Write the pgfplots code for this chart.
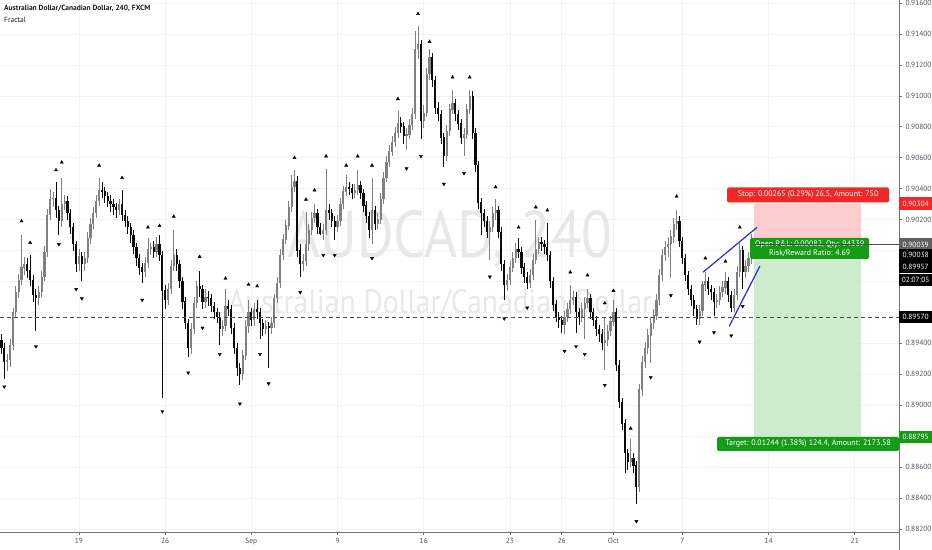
\documentclass[border=0pt]{standalone}
\usepackage{fontspec}
\setmainfont{PT Sans}
\usepackage{graphicx}
\usepackage{pgfplots}
\usepackage{pgfplotstable}
\pgfplotsset{compat=1.18}

\definecolor{upc}{RGB}{128,128,128}
\definecolor{dnc}{RGB}{10,10,10}
\definecolor{stopfill}{RGB}{252,205,207}
\definecolor{tgtfill}{RGB}{205,236,205}
\definecolor{stopred}{RGB}{240,40,40}
\definecolor{tgtgreen}{RGB}{22,155,22}
\definecolor{wm}{RGB}{232,232,232}
\definecolor{lbl}{RGB}{76,82,94}
\definecolor{trend}{RGB}{40,40,210}

% 4h candles, k = bar index, o h l c
\pgfplotstableread{
k o h l c
0 0.8942 0.8946 0.8933 0.8937
1 0.8937 0.8940 0.8917 0.8928
2 0.8928 0.8933 0.8922 0.8929
3 0.8929 0.8943 0.8925 0.8939
4 0.8939 0.8963 0.8936 0.8960
5 0.8960 0.8977 0.8957 0.8973
6 0.8973 0.8985 0.8969 0.8981
7 0.8981 0.9010 0.8978 0.8989
8 0.8989 0.8996 0.8984 0.8991
9 0.8991 0.8995 0.8982 0.8987
10 0.8987 0.8997 0.8977 0.8981
11 0.8981 0.8984 0.8967 0.8971
12 0.8971 0.8975 0.8948 0.8969
13 0.8969 0.8977 0.8965 0.8973
14 0.8973 0.8987 0.8970 0.8983
15 0.8983 0.9003 0.8980 0.8999
16 0.8999 0.9027 0.8996 0.9023
17 0.9023 0.9040 0.9020 0.9033
18 0.9033 0.9038 0.9028 0.9034
19 0.9034 0.9044 0.9021 0.9026
20 0.9026 0.9029 0.9010 0.9019
21 0.9019 0.9047 0.9015 0.9030
22 0.9030 0.9036 0.9026 0.9032
23 0.9032 0.9035 0.9020 0.9024
24 0.9024 0.9027 0.9011 0.9015
25 0.9015 0.9018 0.9000 0.9004
26 0.9004 0.9006 0.8986 0.8991
27 0.8991 0.9001 0.8987 0.8996
28 0.8996 0.8999 0.8980 0.8991
29 0.8991 0.8999 0.8987 0.8995
30 0.8995 0.9012 0.8992 0.9008
31 0.9008 0.9021 0.9004 0.9017
32 0.9017 0.9028 0.9014 0.9024
33 0.9024 0.9036 0.9021 0.9032
34 0.9032 0.9047 0.9029 0.9039
35 0.9039 0.9044 0.9034 0.9038
36 0.9038 0.9041 0.9031 0.9035
37 0.9035 0.9038 0.9028 0.9032
38 0.9032 0.9036 0.9025 0.9030
39 0.9030 0.9033 0.9023 0.9028
40 0.9028 0.9031 0.9021 0.9026
41 0.9026 0.9033 0.9023 0.9030
42 0.9030 0.9039 0.9019 0.9023
43 0.9023 0.9026 0.9015 0.9019
44 0.9019 0.9022 0.9011 0.9015
45 0.9015 0.9018 0.9005 0.9010
46 0.9010 0.9013 0.8998 0.9002
47 0.9002 0.9005 0.8990 0.8995
48 0.8995 0.8998 0.8984 0.8989
49 0.8989 0.8992 0.8979 0.8986
50 0.8986 0.8996 0.8983 0.8992
51 0.8992 0.9008 0.8989 0.9001
52 0.9001 0.9005 0.8997 0.9002
53 0.9002 0.9006 0.8995 0.8999
54 0.8999 0.9009 0.8996 0.9004
55 0.9004 0.9010 0.8993 0.8997
56 0.8997 0.9000 0.8905 0.8974
57 0.8974 0.8978 0.8962 0.8968
58 0.8968 0.8979 0.8965 0.8975
59 0.8975 0.8994 0.8972 0.8990
60 0.8990 0.9013 0.8987 0.8997
61 0.8997 0.9001 0.8987 0.8991
62 0.8991 0.8994 0.8976 0.8980
63 0.8980 0.8983 0.8962 0.8967
64 0.8967 0.8970 0.8949 0.8953
65 0.8953 0.8956 0.8931 0.8937
66 0.8937 0.8953 0.8933 0.8949
67 0.8949 0.8970 0.8946 0.8966
68 0.8966 0.8980 0.8963 0.8977
69 0.8977 0.8987 0.8970 0.8975
70 0.8975 0.8978 0.8962 0.8967
71 0.8967 0.8975 0.8963 0.8970
72 0.8970 0.8974 0.8964 0.8969
73 0.8969 0.8972 0.8960 0.8964
74 0.8964 0.8967 0.8956 0.8960
75 0.8960 0.8963 0.8953 0.8957
76 0.8957 0.8960 0.8939 0.8949
77 0.8949 0.8955 0.8945 0.8951
78 0.8951 0.8975 0.8948 0.8964
79 0.8964 0.8968 0.8958 0.8962
80 0.8962 0.8965 0.8946 0.8950
81 0.8950 0.8953 0.8933 0.8937
82 0.8937 0.8940 0.8919 0.8924
83 0.8924 0.8927 0.8913 0.8920
84 0.8920 0.8936 0.8916 0.8932
85 0.8932 0.8955 0.8929 0.8951
86 0.8951 0.8968 0.8947 0.8960
87 0.8960 0.8963 0.8951 0.8955
88 0.8955 0.8966 0.8951 0.8962
89 0.8962 0.8968 0.8956 0.8960
90 0.8960 0.8963 0.8943 0.8953
91 0.8953 0.8956 0.8945 0.8949
92 0.8949 0.8955 0.8946 0.8951
93 0.8951 0.8954 0.8924 0.8950
94 0.8950 0.8957 0.8946 0.8953
95 0.8953 0.8972 0.8950 0.8969
96 0.8969 0.8983 0.8966 0.8979
97 0.8979 0.9001 0.8976 0.8997
98 0.8997 0.9011 0.8994 0.9007
99 0.9007 0.9020 0.9004 0.9016
100 0.9016 0.9032 0.9013 0.9028
101 0.9028 0.9049 0.9025 0.9041
102 0.9041 0.9052 0.9038 0.9045
103 0.9045 0.9048 0.8996 0.9000
104 0.9000 0.9004 0.8983 0.8991
105 0.8991 0.8998 0.8987 0.8993
106 0.8993 0.9025 0.8990 0.9004
107 0.9004 0.9017 0.9000 0.9013
108 0.9013 0.9025 0.9010 0.9021
109 0.9021 0.9030 0.9018 0.9024
110 0.9024 0.9027 0.9011 0.9015
111 0.9015 0.9018 0.9010 0.9011
112 0.9011 0.9017 0.9007 0.9013
113 0.9013 0.9053 0.9010 0.9026
114 0.9026 0.9030 0.9020 0.9024
115 0.9024 0.9027 0.9015 0.9019
116 0.9019 0.9022 0.9007 0.9015
117 0.9015 0.9023 0.9012 0.9019
118 0.9019 0.9034 0.9016 0.9030
119 0.9030 0.9042 0.9027 0.9038
120 0.9038 0.9049 0.9035 0.9041
121 0.9041 0.9044 0.9036 0.9040
122 0.9040 0.9043 0.9033 0.9037
123 0.9037 0.9043 0.9034 0.9039
124 0.9039 0.9052 0.9036 0.9042
125 0.9042 0.9045 0.9033 0.9037
126 0.9037 0.9040 0.9025 0.9029
127 0.9029 0.9032 0.9018 0.9022
128 0.9022 0.9025 0.9008 0.9013
129 0.9013 0.9047 0.9004 0.9026
130 0.9026 0.9029 0.9013 0.9017
131 0.9017 0.9024 0.9014 0.9020
132 0.9020 0.9037 0.9017 0.9033
133 0.9033 0.9051 0.9030 0.9047
134 0.9047 0.9061 0.9044 0.9057
135 0.9057 0.9068 0.9054 0.9064
136 0.9064 0.9074 0.9061 0.9070
137 0.9070 0.9080 0.9067 0.9076
138 0.9076 0.9090 0.9073 0.9082
139 0.9082 0.9086 0.9076 0.9080
140 0.9080 0.9083 0.9069 0.9074
141 0.9074 0.9079 0.9065 0.9075
142 0.9075 0.9085 0.9072 0.9081
143 0.9081 0.9092 0.9078 0.9088
144 0.9088 0.9142 0.9085 0.9130
145 0.9130 0.9145 0.9124 0.9133
146 0.9133 0.9136 0.9072 0.9084
147 0.9084 0.9094 0.9079 0.9089
148 0.9089 0.9118 0.9086 0.9114
149 0.9114 0.9130 0.9110 0.9125
150 0.9125 0.9128 0.9106 0.9110
151 0.9110 0.9113 0.9088 0.9092
152 0.9092 0.9096 0.9084 0.9088
153 0.9088 0.9091 0.9069 0.9073
154 0.9073 0.9076 0.9054 0.9061
155 0.9061 0.9081 0.9058 0.9077
156 0.9077 0.9095 0.9074 0.9091
157 0.9091 0.9104 0.9088 0.9095
158 0.9095 0.9098 0.9084 0.9088
159 0.9088 0.9091 0.9078 0.9082
160 0.9082 0.9085 0.9069 0.9073
161 0.9073 0.9079 0.9061 0.9075
162 0.9075 0.9095 0.9072 0.9091
163 0.9091 0.9104 0.9088 0.9100
164 0.9100 0.9103 0.9072 0.9076
165 0.9076 0.9079 0.9051 0.9055
166 0.9055 0.9058 0.9027 0.9031
167 0.9031 0.9034 0.9010 0.9024
168 0.9024 0.9027 0.9015 0.9019
169 0.9019 0.9022 0.9008 0.9012
170 0.9012 0.9019 0.8994 0.9015
171 0.9015 0.9028 0.9012 0.9024
172 0.9024 0.9033 0.9020 0.9026
173 0.9026 0.9029 0.9008 0.9012
174 0.9012 0.9015 0.8987 0.8991
175 0.8991 0.8994 0.8968 0.8978
176 0.8978 0.8985 0.8974 0.8981
177 0.8981 0.8993 0.8978 0.8989
178 0.8989 0.8999 0.8986 0.8995
179 0.8995 0.9005 0.8992 0.9001
180 0.9001 0.9008 0.8995 0.8999
181 0.8999 0.9002 0.8985 0.8989
182 0.8989 0.8992 0.8979 0.8983
183 0.8983 0.8986 0.8975 0.8979
184 0.8979 0.8988 0.8976 0.8984
185 0.8984 0.8998 0.8981 0.8994
186 0.8994 0.9020 0.8991 0.9001
187 0.9001 0.9009 0.8998 0.9005
188 0.9005 0.9009 0.9000 0.9004
189 0.9004 0.9007 0.8998 0.9002
190 0.9002 0.9018 0.8993 0.8997
191 0.8997 0.9000 0.8976 0.8980
192 0.8980 0.8983 0.8961 0.8965
193 0.8965 0.8968 0.8954 0.8957
194 0.8957 0.8960 0.8950 0.8955
195 0.8955 0.8958 0.8947 0.8952
196 0.8952 0.8961 0.8946 0.8957
197 0.8957 0.8966 0.8954 0.8962
198 0.8962 0.8978 0.8959 0.8968
199 0.8968 0.8974 0.8965 0.8970
200 0.8970 0.8973 0.8947 0.8960
201 0.8960 0.8963 0.8952 0.8957
202 0.8957 0.8966 0.8954 0.8962
203 0.8962 0.8970 0.8943 0.8966
204 0.8966 0.8975 0.8963 0.8969
205 0.8969 0.8972 0.8956 0.8960
206 0.8960 0.8963 0.8951 0.8955
207 0.8955 0.8958 0.8945 0.8949
208 0.8949 0.8952 0.8941 0.8946
209 0.8946 0.8949 0.8936 0.8940
210 0.8940 0.8957 0.8923 0.8942
211 0.8942 0.8952 0.8938 0.8948
212 0.8948 0.8958 0.8945 0.8954
213 0.8954 0.8968 0.8951 0.8960
214 0.8960 0.8963 0.8922 0.8926
215 0.8926 0.8929 0.8898 0.8902
216 0.8902 0.8905 0.8884 0.8888
217 0.8888 0.8891 0.8856 0.8869
218 0.8869 0.8872 0.8858 0.8863
219 0.8863 0.8878 0.8860 0.8866
220 0.8866 0.8869 0.8856 0.8861
221 0.8861 0.8864 0.8836 0.8847
222 0.8847 0.8914 0.8844 0.8910
223 0.8910 0.8932 0.8906 0.8928
224 0.8928 0.8941 0.8924 0.8937
225 0.8937 0.8949 0.8933 0.8945
226 0.8945 0.8957 0.8927 0.8953
227 0.8953 0.8962 0.8949 0.8958
228 0.8958 0.8972 0.8955 0.8968
229 0.8968 0.8988 0.8965 0.8984
230 0.8984 0.9001 0.8980 0.8997
231 0.8997 0.9006 0.8993 0.9002
232 0.9002 0.9009 0.8996 0.9004
233 0.9004 0.9013 0.8982 0.9009
234 0.9009 0.9021 0.9005 0.9017
235 0.9017 0.9026 0.9013 0.9019
236 0.9019 0.9022 0.9002 0.9006
237 0.9006 0.9009 0.8991 0.8995
238 0.8995 0.8998 0.8980 0.8984
239 0.8984 0.8987 0.8971 0.8975
240 0.8975 0.8978 0.8964 0.8968
241 0.8968 0.8971 0.8958 0.8962
242 0.8962 0.8965 0.8952 0.8956
243 0.8956 0.8965 0.8952 0.8961
244 0.8961 0.8980 0.8958 0.8978
245 0.8978 0.8986 0.8974 0.8980
246 0.8980 0.8983 0.8971 0.8975
247 0.8975 0.8978 0.8968 0.8973
248 0.8973 0.8976 0.8958 0.8967
249 0.8967 0.8972 0.8963 0.8968
250 0.8968 0.8977 0.8965 0.8973
251 0.8973 0.8980 0.8970 0.8976
252 0.8976 0.8986 0.8972 0.8980
253 0.8980 0.8983 0.8967 0.8971
254 0.8971 0.8974 0.8960 0.8963
255 0.8963 0.8975 0.8960 0.8971
256 0.8971 0.8990 0.8968 0.8986
257 0.8986 0.9005 0.8983 0.9000
258 0.9000 0.9003 0.8975 0.8986
259 0.8986 0.8994 0.8982 0.8990
260 0.8990 0.8999 0.8986 0.8995
261 0.8995 0.9011 0.8991 0.9004
262 0.9004 0.9008 0.9000 0.90039
}\candles

\newcommand\tl{\fontsize{7.5}{9}\selectfont}
\pgfplotsset{
  candle/.style 2 args={color=#1, draw=none, mark=none, forget plot,
    error bars/y dir=plus, error bars/y explicit, error bars/error mark=none,
    error bars/error bar style={draw=#1, solid, line width=#2}},
  wick/.style={color=#1, draw=none, mark=none, forget plot,
    error bars/y dir=both, error bars/y explicit, error bars/error mark=none,
    error bars/error bar style={draw=#1, solid, line width=0.8bp}},
  isup/.style={restrict expr to domain={\thisrow{c}-\thisrow{o}}{0:1}},
  isdown/.style={restrict expr to domain={\thisrow{c}-\thisrow{o}}{-1:-0.000001}},
}

\begin{document}
\begin{tikzpicture}
\begin{axis}[
  scale only axis, width=899bp, height=532bp,
  xmin=-0.49, xmax=312.4, ymin=0.881806, ymax=0.916195,
  axis x line*=bottom, axis y line*=right,
  axis line style={black!55, line width=0.8bp},
  xtick={27,57,87,117,147,177,195,213,237,267,297},
  xticklabels={19,26,Sep,9,16,23,26,Oct,7,14,21},
  ytick={0.882,0.884,0.886,0.888,0.890,0.892,0.894,0.896,0.898,0.900,0.902,0.904,0.906,0.908,0.910,0.912,0.914,0.916},
  yticklabels={0.88200,0.88400,0.88600,,0.89000,0.89200,0.89400,,,,0.90200,0.90400,0.90600,0.90800,0.91000,0.91200,0.91400,0.91600},
  scaled y ticks=false,
  tick align=outside, major tick length=3bp,
  tick style={black!55, line width=0.6bp},
  grid=major, grid style={black!5, line width=0.6bp},
  tick label style={font=\tl, text=lbl},
  /pgf/number format/assume math mode=true,
]
% position tool zones
\addplot[fill=stopfill, draw=none, forget plot] coordinates {(262,0.90039) (299.2,0.90039) (299.2,0.90304) (262,0.90304) (262,0.90039)};
\addplot[fill=tgtfill, draw=none, forget plot] coordinates {(262,0.88795) (299.2,0.88795) (299.2,0.90039) (262,0.90039) (262,0.88795)};

% watermark
\node[text=wm, anchor=base, inner sep=0] at (axis cs:156.1,0.89952) {\resizebox{325bp}{47bp}{AUDCAD, 240}};
\node[text=wm, anchor=base, inner sep=0] at (axis cs:152.7,0.89596) {\resizebox{424bp}{24bp}{Australian Dollar/Canadian Dollar}};

% up candles: wick low..high, body open..close
\addplot[isup, wick=upc]
  table[x=k, y=o, y error plus expr={\thisrow{h}-\thisrow{o}}, y error minus expr={\thisrow{o}-\thisrow{l}}] {\candles};
\addplot[isup, candle={upc}{2.2bp}]
  table[x=k, y=o, y error plus expr={\thisrow{c}-\thisrow{o}+0.00002}, y error minus expr={0}] {\candles};
% down candles
\addplot[isdown, wick=dnc]
  table[x=k, y=o, y error plus expr={\thisrow{h}-\thisrow{o}}, y error minus expr={\thisrow{o}-\thisrow{l}}] {\candles};
\addplot[isdown, candle={dnc}{2.2bp}]
  table[x=k, y=c, y error plus expr={\thisrow{o}-\thisrow{c}+0.00002}, y error minus expr={0}] {\candles};

% fractals
\addplot[only marks, mark=triangle*, mark size=1.8bp, black] coordinates {
(7,0.9019) (10,0.9005) (19,0.9052) (21,0.9057) (34,0.9055) (42,0.9047) (51,0.9015) (55,0.9016)
(60,0.9022) (69,0.8996) (78,0.8982) (86,0.8978) (89,0.8977) (102,0.9060) (106,0.9033) (109,0.9039)
(113,0.9061) (120,0.9055) (124,0.9061) (129,0.9055) (138,0.9098) (145,0.9153) (149,0.9135) (157,0.9112)
(163,0.9112) (172,0.9041) (180,0.9015) (186,0.9028) (190,0.9026) (198,0.8986) (204,0.8984) (210,0.8966)
(213,0.8974) (219,0.8885) (235,0.9035) (245,0.8995) (252,0.8993) (257,0.9015)};
\addplot[only marks, mark=triangle*, mark size=1.8bp, black, mark options={rotate=180}] coordinates {
(1,0.8912) (12,0.8938) (20,0.9004) (26,0.8975) (28,0.8969) (49,0.8968) (56,0.8896) (65,0.8921)
(70,0.8950) (76,0.8933) (83,0.8901) (90,0.8933) (93,0.8914) (104,0.8973) (112,0.8997) (116,0.8997)
(129,0.8995) (141,0.9053) (146,0.9061) (154,0.9043) (161,0.9050) (170,0.8983) (175,0.8956) (183,0.8963)
(196,0.8935) (200,0.8938) (203,0.8933) (210,0.8913) (221,0.8825) (226,0.8918) (233,0.8971) (243,0.8941)
(248,0.8947) (254,0.8945) (258,0.8964)};

% wedge lines
\addplot[trend, line width=1.2bp] coordinates {(244.2,0.8986) (263.0,0.9015)};
\addplot[trend, line width=1.2bp] coordinates {(253.3,0.8951) (264.0,0.8990)};

% horizontal level
\addplot[black!70, line width=0.8bp, dash pattern=on 4bp off 3bp] coordinates {(-0.49,0.8957) (312.4,0.8957)};

% position labels
\node[fill=stopred, text=white, rounded corners=1.5bp, minimum width=162bp, minimum height=15bp, inner sep=1bp, font=\fontsize{8}{9}\selectfont]
  at (axis cs:280.8,0.90359) {Stop: 0.00265 (0.29\%) 26.5, Amount: 750};
\node[fill=tgtgreen, text=white, rounded corners=1.5bp, minimum width=119bp, minimum height=21bp, inner sep=1bp, align=center, font=\fontsize{8}{9}\selectfont]
  at (axis cs:281.3,0.900132) {Open P\&L: 0.00082, Qty: 94339\\Risk/Reward Ratio: 4.69};
\node[fill=tgtgreen, text=white, rounded corners=1.5bp, minimum width=182bp, minimum height=14bp, inner sep=1bp, font=\fontsize{8}{9}\selectfont]
  at (axis cs:280.8,0.887495) {Target: 0.01244 (1.38\%) 124.4, Amount: 2173.58};
\addplot[black!70, line width=0.8bp] coordinates {(262,0.90039) (312.4,0.90039)};

% header text
\node[anchor=north west, inner sep=0, text=black!90, font=\fontsize{7.5}{9}\selectfont\bfseries]
  at ([xshift=4bp,yshift=-5bp]rel axis cs:0,1) {Australian Dollar/Canadian Dollar, 240, FXCM};
\node[anchor=north west, inner sep=0, text=black!90, font=\fontsize{7.5}{9}\selectfont]
  at ([xshift=4bp,yshift=-17bp]rel axis cs:0,1) {Fractal};

\coordinate (b1) at (axis cs:312.4,0.90304);
\coordinate (b2) at (axis cs:312.4,0.90039);
\coordinate (b3) at (axis cs:312.4,0.899712);
\coordinate (b4) at (axis cs:312.4,0.898936);
\coordinate (b5) at (axis cs:312.4,0.898096);
\coordinate (b6) at (axis cs:312.4,0.8957);
\coordinate (b7) at (axis cs:312.4,0.88795);
\end{axis}

\tikzset{pbox/.style={anchor=west, text=white, minimum width=33bp, minimum height=12.5bp, inner sep=1bp, font=\tl}}
\node[pbox, fill=stopred] at (b1) {0.90304};
\node[pbox, fill=black!62] at (b2) {0.90039};
\node[pbox, fill=black] at (b3) {0.90038};
\node[pbox, fill=black] at (b4) {0.89957};
\node[pbox, fill=black] at (b5) {02:07:05};
\node[pbox, fill=black] at (b6) {0.89570};
\node[pbox, fill=tgtgreen] at (b7) {0.88795};
\draw[black!55, line width=0.8bp] (current axis.south east) -- ++(0,-18bp);

\pgfresetboundingbox
\path (current axis.south west) ++(0,-18bp) rectangle ([xshift=33bp]current axis.north east);
\end{tikzpicture}
\end{document}
